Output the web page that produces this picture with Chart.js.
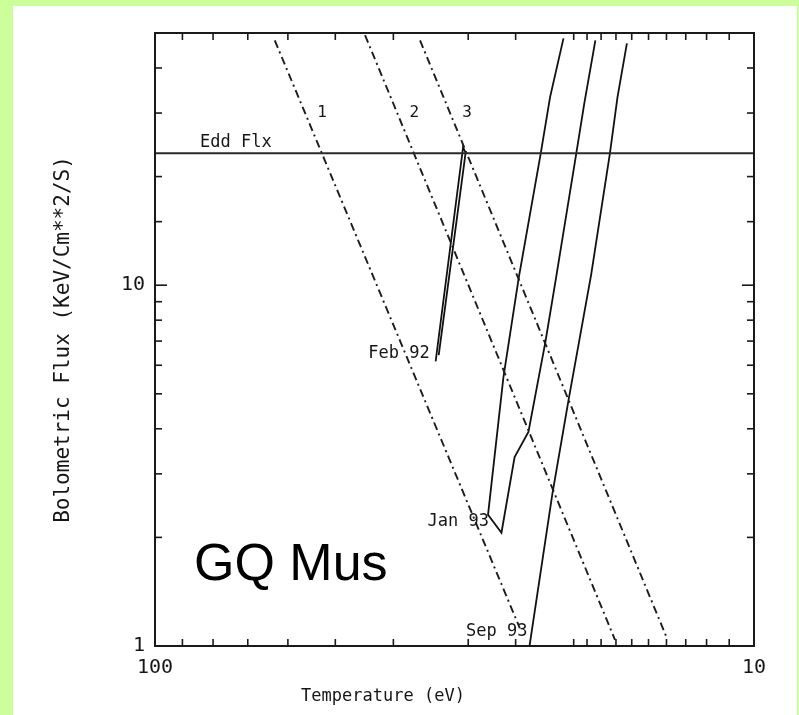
<!DOCTYPE html>
<html>
<head>
<meta charset="utf-8">
<script src="https://cdn.jsdelivr.net/npm/chart.js@4.4.1/dist/chart.umd.min.js"></script>
<style>
  html, body { margin: 0; padding: 0; }
  body { width: 799px; height: 715px; background: #ccff99; position: relative; overflow: hidden; }
  #papel { position: absolute; left: 13px; top: 6px; width: 784px; height: 709px; background: #fff; }
  #caixa { position: absolute; left: 0; top: 0; width: 799px; height: 715px; }
</style>
</head>
<body>
<div id="papel"></div>
<div id="caixa"><canvas id="grafico" width="799" height="715"></canvas></div>
<script>
// Temperatura (eV) e fluxo bolometrico
const feb92T = [34.0, 30.6, 30.3, 33.6];
const feb92F = [6.15, 24.1, 23.3, 6.4];

const jan93T = [20.8, 21.9, 22.7, 24.7, 26.2, 27.8, 26.4, 25.1, 23.8, 22.3, 21.4, 19.8, 19.2, 18.4];
const jan93F = [48.3, 33.2, 23.2, 10.5, 5.56, 2.31, 2.06, 3.34, 3.92, 6.95, 10.5, 23.2, 31.9, 47.7];

const sep93T = [23.7, 21.7, 20.4, 18.7, 17.4, 16.9, 16.3];
const sep93F = [1.0, 2.65, 4.80, 10.7, 23.2, 33.2, 46.8];

// linhas de raio constante (1, 2, 3): extremos
const raio1T = [63.1, 24.6];
const raio1F = [47.7, 1.12];
const raio2T = [44.6, 17.06];
const raio2F = [49.3, 1.04];
const raio3T = [36.1, 13.97];
const raio3F = [47.7, 1.05];

// fluxo de Eddington
const eddT = [100, 10];
const eddF = [23.2, 23.2];

const rotulosRaio = ['1', '2', '3'];
const rotulosTrilha = ['Feb 92', 'Jan 93', 'Sep 93'];
const rotulosX = [100, 10];
const rotulosY = [1, 10];

function pontos(ts, fs) {
    return ts.map((t, i) => ({ x: t, y: fs[i] }));
}

const fonteMono = '"DejaVu Sans Mono", monospace';
const tracoPonto = [8, 4, 2, 4];

function trilha(ts, fs) {
    return { data: pontos(ts, fs), showLine: true, borderColor: '#111', borderWidth: 1.8, pointRadius: 0, tension: 0 };
}
function raio(ts, fs) {
    return { data: pontos(ts, fs), showLine: true, borderColor: '#1c1c1c', borderWidth: 1.9, borderDash: tracoPonto, pointRadius: 0, tension: 0 };
}

// deslocamentos dos rotulos das trilhas em relacao ao ponto mais quente
const deslocTrilha = [[-6, -8], [1, 7], [-2, -14]];

const desenhos = {
    id: 'desenhos',
    afterDraw(chart) {
        const { ctx, chartArea: a, scales: { x, y } } = chart;
        ctx.save();

        // moldura
        ctx.strokeStyle = '#1a1a1a';
        ctx.lineWidth = 2;
        ctx.strokeRect(a.left, a.top, a.right - a.left, a.bottom - a.top);

        // marcas para dentro nos quatro lados
        ctx.lineWidth = 1.6;
        const linha = (x0, y0, x1, y1) => { ctx.beginPath(); ctx.moveTo(x0, y0); ctx.lineTo(x1, y1); ctx.stroke(); };
        const ehMaior = v => Math.abs(Math.log10(v) - Math.round(Math.log10(v))) < 1e-6;
        x.ticks.forEach(t => {
            const px = x.getPixelForValue(t.value);
            if (px <= a.left + 1 || px >= a.right - 1) return;
            const len = ehMaior(t.value) ? 12 : 7;
            linha(px, a.bottom, px, a.bottom - len);
            linha(px, a.top, px, a.top + len);
        });
        y.ticks.forEach(t => {
            const py = y.getPixelForValue(t.value);
            if (py <= a.top + 1 || py >= a.bottom - 1) return;
            const len = ehMaior(t.value) ? 12 : 7;
            linha(a.left, py, a.left + len, py);
            linha(a.right, py, a.right - len, py);
        });

        ctx.fillStyle = '#161616';
        ctx.textBaseline = 'middle';

        // Edd Flx
        ctx.font = '17px ' + fonteMono;
        ctx.textAlign = 'left';
        ctx.fillText('Edd Flx', a.left + 45, y.getPixelForValue(eddF[0]) - 11);

        // numeros das linhas de raio, na altura de F = 30
        const raios = [[raio1T, raio1F], [raio2T, raio2F], [raio3T, raio3F]];
        ctx.font = '16px ' + fonteMono;
        ctx.textAlign = 'center';
        raios.forEach(([ts, fs], i) => {
            const fr = (Math.log10(fs[0]) - Math.log10(30)) / (Math.log10(fs[0]) - Math.log10(fs[1]));
            const lt = Math.log10(ts[0]) + fr * (Math.log10(ts[1]) - Math.log10(ts[0]));
            ctx.fillText(rotulosRaio[i], x.getPixelForValue(Math.pow(10, lt)) + 17, y.getPixelForValue(30));
        });

        // rotulos das trilhas
        const trilhas = [[feb92T, feb92F], [jan93T, jan93F], [sep93T, sep93F]];
        ctx.font = '17px ' + fonteMono;
        ctx.textAlign = 'right';
        trilhas.forEach(([ts, fs], i) => {
            const k = ts.indexOf(Math.max(...ts));
            ctx.fillText(rotulosTrilha[i], x.getPixelForValue(ts[k]) + deslocTrilha[i][0], y.getPixelForValue(fs[k]) + deslocTrilha[i][1]);
        });

        // titulo do eixo x
        ctx.font = '17px ' + fonteMono;
        ctx.textAlign = 'center';
        ctx.fillText('Temperature (eV)', a.left + 228, a.bottom + 51);

        // nome do objeto
        ctx.fillStyle = '#000';
        ctx.font = '52px "Liberation Sans", Arial, sans-serif';
        ctx.textAlign = 'left';
        ctx.textBaseline = 'alphabetic';
        ctx.fillText('GQ Mus', a.left + 39, a.bottom - 66);

        ctx.restore();
    }
};

const ctx = document.getElementById('grafico').getContext('2d');

new Chart(ctx, {
    type: 'scatter',
    data: {
        datasets: [
            { data: pontos(eddT, eddF), showLine: true, borderColor: '#2a2a2a', borderWidth: 2, pointRadius: 0 },
            raio(raio1T, raio1F),
            raio(raio2T, raio2F),
            raio(raio3T, raio3F),
            trilha(feb92T, feb92F),
            trilha(jan93T, jan93F),
            trilha(sep93T, sep93F)
        ]
    },
    options: {
        responsive: false,
        animation: false,
        layout: { padding: { left: 0, top: 33, right: 45, bottom: 0 } },
        plugins: {
            legend: { display: false },
            tooltip: { enabled: false }
        },
        scales: {
            x: {
                type: 'logarithmic',
                reverse: true,
                min: 10,
                max: 100,
                grid: { display: false, drawTicks: false },
                border: { display: false },
                ticks: {
                    autoSkip: false,
                    maxRotation: 0,
                    padding: 10,
                    color: '#161616',
                    font: { family: fonteMono, size: 20 },
                    callback: v => rotulosX.includes(v) ? String(v) : ''
                },
                afterFit: s => { s.height = 69; }
            },
            y: {
                type: 'logarithmic',
                min: 1,
                max: 50,
                grid: { display: false, drawTicks: false },
                border: { display: false },
                ticks: {
                    autoSkip: false,
                    padding: 10,
                    color: '#161616',
                    font: { family: fonteMono, size: 20 },
                    callback: v => rotulosY.includes(v) ? String(v) : ''
                },
                title: {
                    display: true,
                    text: 'Bolometric Flux (KeV/Cm**2/S)',
                    color: '#161616',
                    font: { family: fonteMono, size: 21 },
                    padding: { top: 51, bottom: 0 }
                },
                afterFit: s => { s.width = 155; }
            }
        }
    },
    plugins: [desenhos]
});
</script>
</body>
</html>
